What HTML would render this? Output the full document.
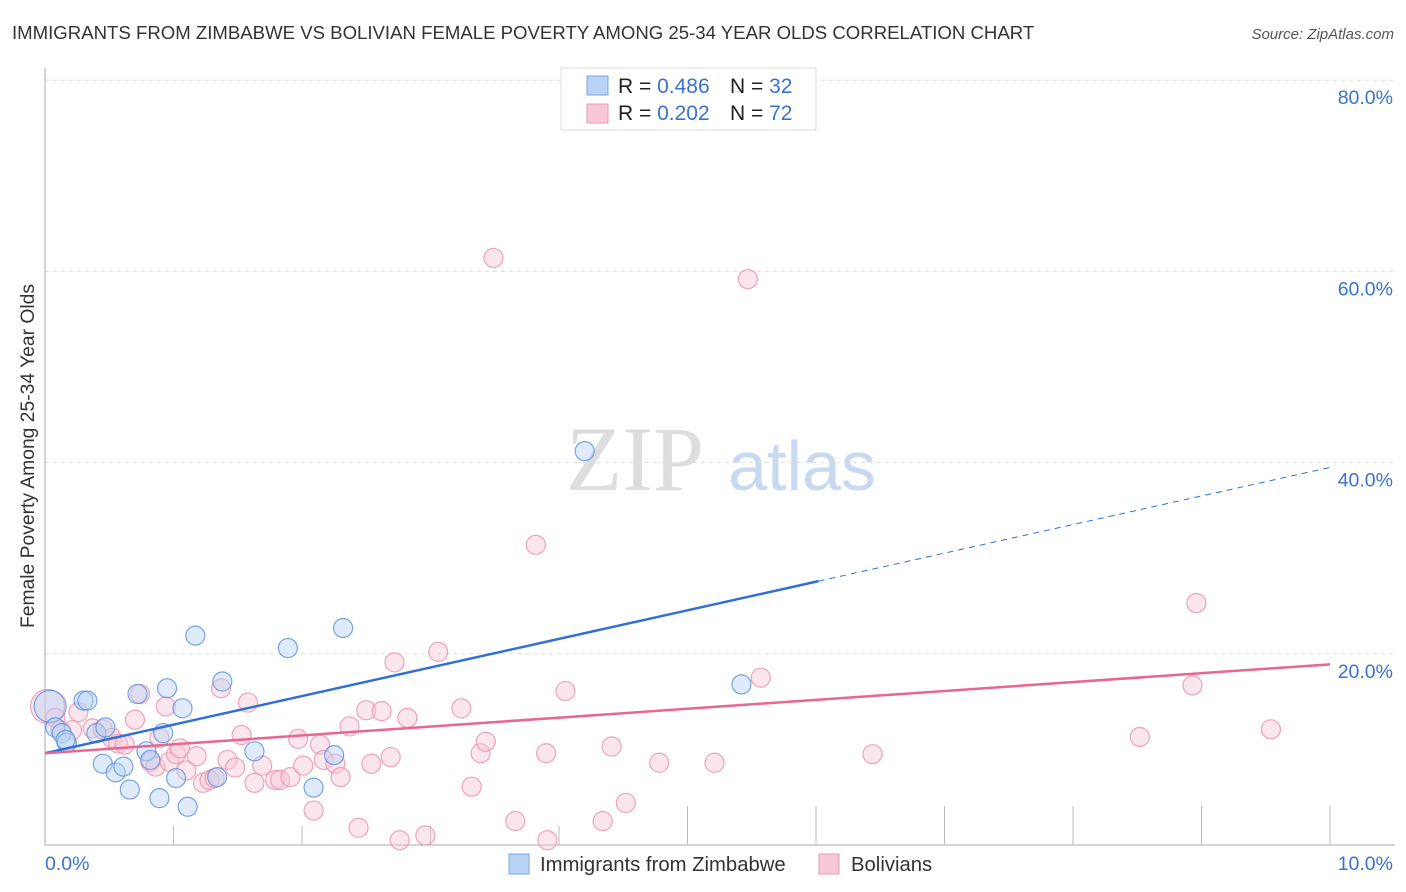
<!DOCTYPE html>
<html><head><meta charset="utf-8"><style>
body{margin:0;background:#fff;font-family:"Liberation Sans",sans-serif;}
svg{display:block}
</style></head><body>
<svg id="chart" width="1406" height="892" xmlns="http://www.w3.org/2000/svg">
<text x="12" y="39" font-size="18.6" fill="#333">IMMIGRANTS FROM ZIMBABWE VS BOLIVIAN FEMALE POVERTY AMONG 25-34 YEAR OLDS CORRELATION CHART</text>
<text x="1394" y="39" font-size="15" fill="#555" font-style="italic" text-anchor="end">Source: ZipAtlas.com</text>
<text x="34" y="456" font-size="19.3" fill="#333" text-anchor="middle" transform="rotate(-90 34 456)">Female Poverty Among 25-34 Year Olds</text>
<g>
<text x="635" y="490" font-family="Liberation Serif,serif" font-size="92" fill="#ddd" text-anchor="middle">ZIP</text>
<text x="802" y="490" font-size="70" fill="#c8daf2" text-anchor="middle">atlas</text>
</g>
<g id="grid"></g><g id="axes"></g><g id="pinkpts"></g><g id="bluepts"></g><g id="lines"></g>
<g>
<rect x="561" y="68" width="255" height="62" fill="#fff" stroke="#ddd"/>
<rect x="587" y="76" width="21" height="19" fill="#b9d3f5" stroke="#7aa6e0"/>
<rect x="587" y="104" width="21" height="19" fill="#f9c8d6" stroke="#ec9ab4"/>
<text x="618" y="93" font-size="21" fill="#222">R = <tspan fill="#3a72d1">0.486</tspan></text>
<text x="730" y="93" font-size="21" fill="#222">N = <tspan fill="#3a72d1">32</tspan></text>
<text x="618" y="120" font-size="21" fill="#222">R = <tspan fill="#3a72d1">0.202</tspan></text>
<text x="730" y="120" font-size="21" fill="#222">N = <tspan fill="#3a72d1">72</tspan></text>
</g>
<g>
<rect x="509" y="854" width="20" height="20" fill="#b9d3f5" stroke="#7aa6e0"/>
<text x="540" y="871" font-size="20.3" fill="#333">Immigrants from Zimbabwe</text>
<rect x="819" y="854" width="20" height="20" fill="#f9c8d6" stroke="#ec9ab4"/>
<text x="851" y="871" font-size="20.3" fill="#333">Bolivians</text>
</g>
</svg>
<script>
const xTickLabels=["0.0%","10.0%"];
const yTicks=[20,40,60,80];
const blueX=[0.04,0.08,0.13,0.17,0.30,0.33,0.40,0.47,0.45,0.55,0.61,0.66,0.72,0.79,0.82,0.89,0.92,0.95,1.02,1.07,1.11,1.17,1.34,1.38,1.63,1.89,2.09,2.25,2.32,4.20,5.42,0.16];
const blueY=[14.5,12.3,11.7,10.7,15.1,15.1,11.7,12.3,8.5,7.6,8.2,5.8,15.8,9.8,8.9,4.9,11.7,16.4,7.0,14.3,4.0,21.9,7.1,17.1,9.8,20.6,6.0,9.4,22.7,41.2,16.8,11.0];
const pinkX=[0.02,0.08,0.12,0.21,0.26,0.37,0.45,0.52,0.57,0.62,0.70,0.74,0.82,0.86,0.89,0.94,0.97,1.02,1.05,1.10,1.18,1.23,1.28,1.32,1.37,1.42,1.48,1.53,1.58,1.63,1.69,1.79,1.83,1.91,1.97,2.01,2.09,2.14,2.17,2.26,2.30,2.37,2.44,2.50,2.54,2.62,2.69,2.72,2.76,2.82,2.96,3.06,3.24,3.32,3.39,3.43,3.49,3.66,3.82,3.90,3.91,4.05,4.34,4.41,4.52,4.78,5.21,5.47,5.57,6.44,8.52,8.93,8.96,9.54];
const pinkY=[14.5,13.3,12.0,12.0,13.9,12.2,12.1,11.2,10.6,10.5,13.1,15.8,8.7,8.2,11.2,14.5,8.7,9.5,10.1,7.8,9.3,6.5,6.8,7.0,16.4,8.9,8.1,11.5,14.9,6.5,8.3,6.8,6.8,7.1,11.1,8.3,3.6,10.5,8.9,8.5,7.1,12.4,1.8,14.1,8.5,14.0,9.2,19.1,0.5,13.3,1.0,20.2,14.3,6.1,9.6,10.8,61.4,2.5,31.4,9.6,0.5,16.1,2.5,10.3,4.4,8.6,8.6,59.2,17.5,9.5,11.3,16.7,25.3,12.1];
const blueTrend=[9.6,2.99]; // intercept, slope
const pinkTrend=[9.6,0.93];
const blueSolidEnd=6.02;

const X0=45,X1=1330,Y0=845,PX=191.2/20;
const sx=v=>X0+(X1-X0)*v/10, sy=v=>Y0-v*PX;
const NS="http://www.w3.org/2000/svg";
function mk(tag,parent,attrs){const e=document.createElementNS(NS,tag);for(const k in attrs)e.setAttribute(k,attrs[k]);document.getElementById(parent).appendChild(e);return e;}
yTicks.forEach(t=>{
  const l=mk('line','grid',{x1:X0,x2:1395,y1:sy(t),y2:sy(t),stroke:'#ddd','stroke-dasharray':'4,4'});
  
  
  const tx=mk('text','grid',{x:1393,y:sy(t)+24,'font-size':19.5,fill:'#3a72d1','text-anchor':'end'});
  tx.textContent=t.toFixed(1)+'%';
  
  
});
const ax=mk('line','axes',{x1:X0,x2:X0,y1:68,y2:Y0,stroke:'#aaa'});


const bx=mk('line','axes',{x1:X0,x2:1395,y1:Y0,y2:Y0,stroke:'#aaa'});


for(let i=1;i<=10;i++){
  const tk=mk('line','axes',{x1:sx(i),x2:sx(i),y1:i>=5?806:826,y2:Y0,stroke:'#bbb'});
  
  
}
const xl0=mk('text','axes',{x:45,y:870,'font-size':19.5,fill:'#3a72d1'});xl0.textContent=xTickLabels[0];


const xl1=mk('text','axes',{x:1393,y:870,'font-size':19.5,fill:'#3a72d1','text-anchor':'end'});xl1.textContent=xTickLabels[1];


function pts(xs,ys,g,fill,stroke,name){
  xs.forEach((x,i)=>{
    const r=i===0&&g==='pinkpts'?17:(i===0?16:9.5);
    const c=mk('circle',g,{cx:sx(x),cy:sy(ys[i]),r:r,fill:fill,'fill-opacity':0.45,stroke:stroke,'stroke-width':1.2,'stroke-opacity':0.8});
    
    
  });
}
pts(pinkX,pinkY,'pinkpts','#f9c8d6','#ec8eab','bolivian-point');
pts(blueX,blueY,'bluepts','#b9d3f5','#5a8ede','zimbabwe-point');
const bt=x=>blueTrend[0]+blueTrend[1]*x, pt=x=>pinkTrend[0]+pinkTrend[1]*x;
const l1=mk('line','lines',{x1:sx(0),y1:sy(bt(0)),x2:sx(blueSolidEnd),y2:sy(bt(blueSolidEnd)),stroke:'#2f6fd6','stroke-width':2.5});


const l2=mk('line','lines',{x1:sx(blueSolidEnd),y1:sy(bt(blueSolidEnd)),x2:sx(10),y2:sy(bt(10)),stroke:'#2f6fd6','stroke-width':1,'stroke-dasharray':'6,5'});


const l3=mk('line','lines',{x1:sx(0),y1:sy(pt(0)),x2:sx(10),y2:sy(pt(10)),stroke:'#e8668f','stroke-width':2.5});


</script>
</body></html>
